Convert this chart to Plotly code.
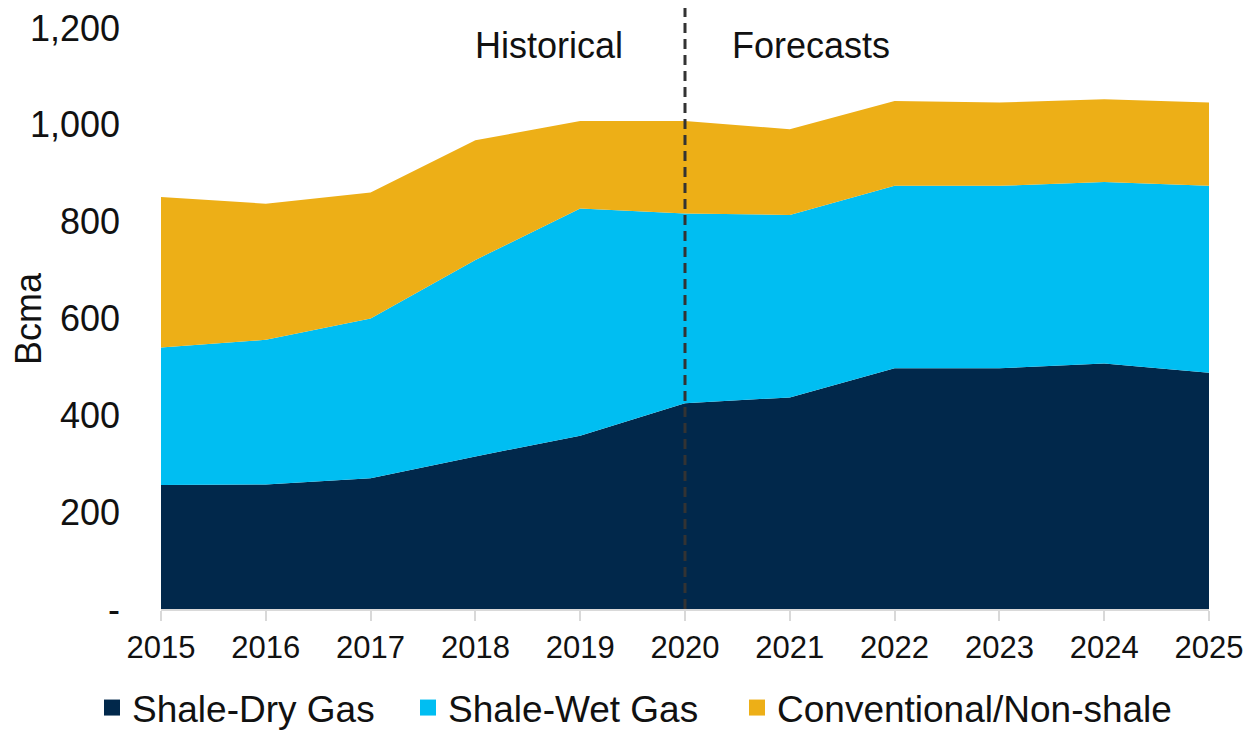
import plotly.graph_objects as go

years = [2015, 2016, 2017, 2018, 2019, 2020, 2021, 2022, 2023, 2024, 2025]
shale_dry = [256, 257, 270, 315, 358, 425, 437, 497, 497, 507, 488]
shale_wet = [284, 299, 330, 406, 469, 392, 377, 377, 377, 375, 386]
conventional = [311, 281, 260, 247, 181, 191, 177, 175, 172, 171, 172]

series_names = ["Shale-Dry Gas", "Shale-Wet Gas", "Conventional/Non-shale"]
colors = ["#01284B", "#00BEF2", "#EDAF17"]
y_tickvals = [0, 200, 400, 600, 800, 1000, 1200]
y_ticktext = ["-", "200", "400", "600", "800", "1,000", "1,200"]

FONT = "Arial, 'Liberation Sans', sans-serif"
L, R, T, B = 161, 39, 28, 122
PW, PH = 1248 - L - R, 731 - T - B

fig = go.Figure()
for name, vals, col in zip(series_names, [shale_dry, shale_wet, conventional], colors):
    fig.add_trace(go.Scatter(
        x=years, y=vals, name=name, stackgroup="one", mode="lines",
        line=dict(width=0, color=col), fillcolor=col, showlegend=False,
    ))

legend_ids = ["legend", "legend2", "legend3"]
legend_x_px = [92, 408, 737]
for name, col, lid in zip(series_names, colors, legend_ids):
    fig.add_trace(go.Scatter(
        x=[None], y=[None], name=name, mode="markers", legend=lid,
        marker=dict(symbol="square", size=17, color=col), showlegend=True,
    ))

fig.add_shape(type="line", xref="x", yref="paper", x0=2020, x1=2020, y0=0, y1=1 + 20 / PH,
              line=dict(color="#333333", width=3, dash="10px,6px"))

fig.add_annotation(x=2019.43, y=1163, xref="x", yref="y", text="Historical",
                   showarrow=False, xanchor="right", yanchor="middle",
                   font=dict(family=FONT, size=36, color="#111111"))
fig.add_annotation(x=2020.43, y=1163, xref="x", yref="y", text="Forecasts",
                   showarrow=False, xanchor="left", yanchor="middle",
                   font=dict(family=FONT, size=36, color="#111111"))
fig.add_annotation(x=(28 - L) / PW, y=(609 - 319) / PH, xref="paper", yref="paper", text="Bcma",
                   showarrow=False, textangle=-90, xanchor="center", yanchor="middle",
                   font=dict(family=FONT, size=36, color="#111111"))

legend_layout = {}
for lid, xpx in zip(legend_ids, legend_x_px):
    legend_layout[lid] = dict(
        orientation="h", xref="container", yref="container",
        x=xpx / 1248, xanchor="left", y=1 - 708 / 731, yanchor="middle",
        font=dict(family=FONT, size=37, color="#111111"),
        itemsizing="trace", bgcolor="rgba(0,0,0,0)",
    )

fig.update_layout(
    width=1248, height=731,
    margin=dict(l=L, r=R, t=T, b=B, autoexpand=False),
    paper_bgcolor="white", plot_bgcolor="white",
    font=dict(family=FONT, color="#111111"),
    **legend_layout,
    xaxis=dict(range=[2015, 2025], tickvals=years, ticktext=[str(y) for y in years],
               showgrid=False, zeroline=False, showline=True, linecolor="#D9D9D9", linewidth=2,
               ticks="outside", ticklen=10, tickcolor="#D9D9D9", tickwidth=2,
               tickfont=dict(family=FONT, size=31, color="#111111")),
    yaxis=dict(range=[0, 1200], tickvals=y_tickvals, ticktext=y_ticktext,
               showgrid=False, zeroline=False, showline=False, ticks="",
               ticklabelstandoff=40,
               tickfont=dict(family=FONT, size=36, color="#111111")),
)

fig.write_html("out.html")
